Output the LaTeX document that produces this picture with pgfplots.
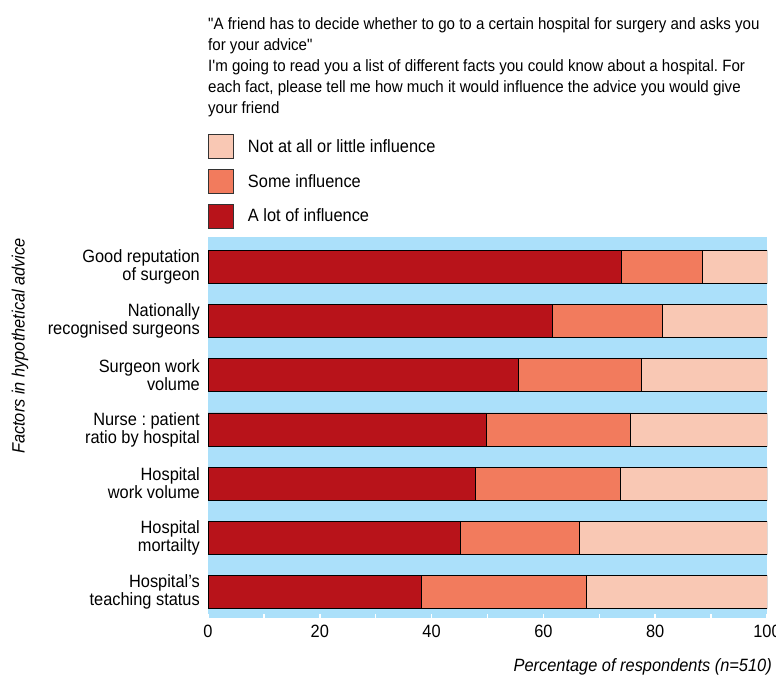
\documentclass[border=0pt]{standalone}
\usepackage{fontspec}
\setmainfont{Liberation Sans}[FakeStretch=0.92, Ligatures=TeXOff]
\usepackage{pgfplots}
\usepackage{pgfplotstable}
\pgfplotsset{compat=1.18}
\definecolor{lotred}{RGB}{184,19,26}
\definecolor{somered}{RGB}{242,123,93}
\definecolor{littlered}{RGB}{249,200,180}
\definecolor{bgblue}{RGB}{171,224,250}

% share of respondents, bottom row first
\pgfplotstableread{
y lot some little
0 38.1 29.6 32.3
1 45.2 21.3 33.5
2 47.9 25.9 26.2
3 49.8 25.8 24.4
4 55.6 21.9 22.5
5 61.6 19.6 18.8
6 74.0 14.4 11.6
}\influence

\newcommand{\chartfont}{\fontsize{17.8}{18}\selectfont}
\newcommand{\dq}{\symbol{34}}
\newcommand{\sq}{\symbol{39}}
\frenchspacing
\pgfplotsset{
  sqlegend/.style={legend image code/.code={
      \draw[##1,draw=black!80,line width=0.8pt] (0pt,-12pt) rectangle (25pt,12pt);}},
}

\begin{document}
\begin{tikzpicture}
\useasboundingbox (0,0) rectangle (776pt,-675pt);
\begin{axis}[
  at={(208pt,-618pt)}, anchor=south west,
  scale only axis, width=559pt, height=381pt,
  xbar stacked, bar width=33pt,
  xmin=0, xmax=100, ymin=-0.48, ymax=6.55,
  axis background/.style={fill=bgblue},
  axis line style={draw=none},
  xtick={0,20,...,100}, minor xtick={10,30,...,90},
  xtick pos=lower, tick align=inside,
  major tick length=4pt, minor tick length=4pt,
  x tick style={white, line width=1.5pt},
  ytick={0,...,6},
  yticklabels={{Hospital’s\\teaching status},{Hospital\\mortailty},
    {Hospital\\work volume},{Nurse : patient\\ratio by hospital},
    {Surgeon work\\volume},{Nationally\\recognised surgeons},
    {Good reputation\\of surgeon}},
  y tick style={draw=none},
  yticklabel style={align=right, font=\chartfont, inner sep=0pt, xshift=-8pt},
  xticklabel style={font=\chartfont, inner sep=0pt, yshift=-7pt},
  /pgf/number format/assume math mode=true,
  legend style={at={(0,1.2703)}, anchor=north west, draw=none, fill=none,
    inner sep=0pt, row sep=10pt, font=\chartfont, nodes={inner xsep=14pt}},
  legend cell align=left,
  reverse legend,
  every axis plot/.append style={draw=black, line width=0.8pt},
]
\addplot[fill=lotred, sqlegend] table[x=lot, y=y] {\influence};
\addlegendentry{A lot of influence}
\addplot[fill=somered, sqlegend] table[x=some, y=y] {\influence};
\addlegendentry{Some influence}
\addplot[fill=littlered, sqlegend] table[x=little, y=y] {\influence};
\addlegendentry{Not at all or little influence}
\end{axis}
\node[anchor=base west, inner sep=0pt, align=left,
  font=\fontsize{16.4}{21}\selectfont] at (208pt,-113pt)
  {\dq A friend has to decide whether to go to a certain hospital for surgery and asks you\\
   for your advice\dq\\
   I\sq m going to read you a list of different facts you could know about a hospital. For\\
   each fact, please tell me how much it would influence the advice you would give\\
   your friend};
\node[anchor=center, inner sep=0pt, rotate=90, font=\chartfont\itshape]
  at (20pt,-346pt) {Factors in hypothetical advice};
\node[anchor=base east, inner sep=0pt, font=\chartfont\itshape]
  at (772pt,-671pt) {Percentage of respondents (n=510)};
\end{tikzpicture}
\end{document}
